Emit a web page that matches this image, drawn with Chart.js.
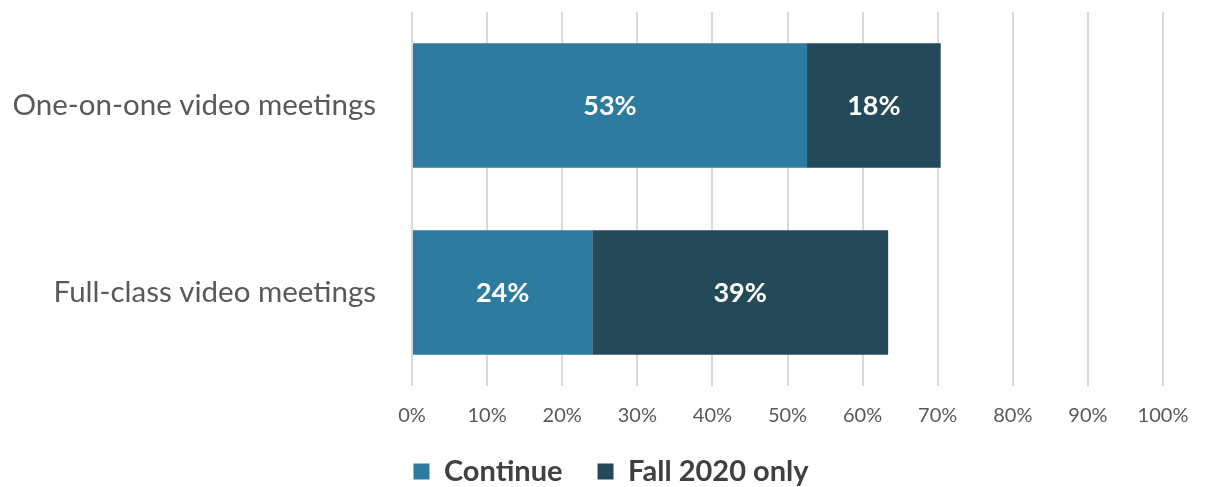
<!DOCTYPE html>
<html>
<head>
<meta charset="utf-8">
<script src="https://cdn.jsdelivr.net/npm/chart.js@4"></script>
<style>
  html, body { margin: 0; padding: 0; background: #fff; }
  #wrap { width: 1208px; height: 487px; }
</style>
</head>
<body>
<div id="wrap"><canvas id="videoChart"></canvas></div>
<script>
// values (percent)
const categories = ["One-on-one video meetings", "Full-class video meetings"];
const continueVals = [52.6, 24.0];
const fallOnlyVals = [17.8, 39.4];
const seriesNames = ["Continue", "Fall 2020 only"];
const tickVals = [0, 10, 20, 30, 40, 50, 60, 70, 80, 90, 100];

const FONT = "Lato, 'Open Sans', sans-serif";

// draw the value in the middle of each bar
const barLabels = {
  id: "barLabels",
  afterDatasetsDraw(chart) {
    const ctx = chart.ctx;
    ctx.save();
    ctx.fillStyle = "#ffffff";
    ctx.font = "bold 27px " + FONT;
    ctx.textAlign = "center";
    ctx.textBaseline = "middle";
    chart.data.datasets.forEach((ds, i) => {
      chart.getDatasetMeta(i).data.forEach((bar, j) => {
        const c = bar.getCenterPoint();
        ctx.fillText(Math.round(ds.data[j]) + "%", c.x, c.y + 1);
      });
    });
    ctx.restore();
  },
};

new Chart("videoChart", {
  type: "bar",
  data: {
    labels: categories,
    datasets: [
      {
        label: seriesNames[0],
        data: continueVals,
        backgroundColor: "#2e7ba0",
        categoryPercentage: 1,
        barPercentage: 0.667,
      },
      {
        label: seriesNames[1],
        data: fallOnlyVals,
        backgroundColor: "#244a5a",
        categoryPercentage: 1,
        barPercentage: 0.667,
      },
    ],
  },
  options: {
    indexAxis: "y",
    responsive: true,
    maintainAspectRatio: false,
    animation: false,
    layout: { padding: { top: 12, right: 0, left: 14, bottom: -9 } },
    scales: {
      x: {
        stacked: true,
        min: 0,
        max: 100,
        afterBuildTicks(scale) {
          scale.ticks = tickVals.map((v) => ({ value: v }));
        },
        afterFit(scale) {
          scale.height = 36;
          scale.paddingRight = 45;
        },
        grid: { color: "#d9d9d9", lineWidth: 2, drawTicks: false },
        border: { display: false },
        ticks: {
          padding: 18,
          color: "#595959",
          font: { family: FONT, size: 20 },
          callback: (v) => v + "%",
        },
      },
      y: {
        stacked: true,
        afterFit(scale) {
          scale.width = 398;
          // tick padding should only push labels left, not shrink the plot
          scale.paddingTop = 0;
          scale.paddingBottom = 0;
        },
        grid: { display: false },
        border: { display: false },
        ticks: {
          padding: 28,
          color: "#595959",
          font: { family: FONT, size: 29.5 },
        },
      },
    },
    plugins: {
      tooltip: { enabled: false },
      legend: {
        position: "bottom",
        labels: {
          boxWidth: 16,
          boxHeight: 16,
          padding: 35,
          color: "#404040",
          font: { family: FONT, size: 29, weight: "bold" },
        },
      },
    },
  },
  plugins: [barLabels],
});
</script>
</body>
</html>
